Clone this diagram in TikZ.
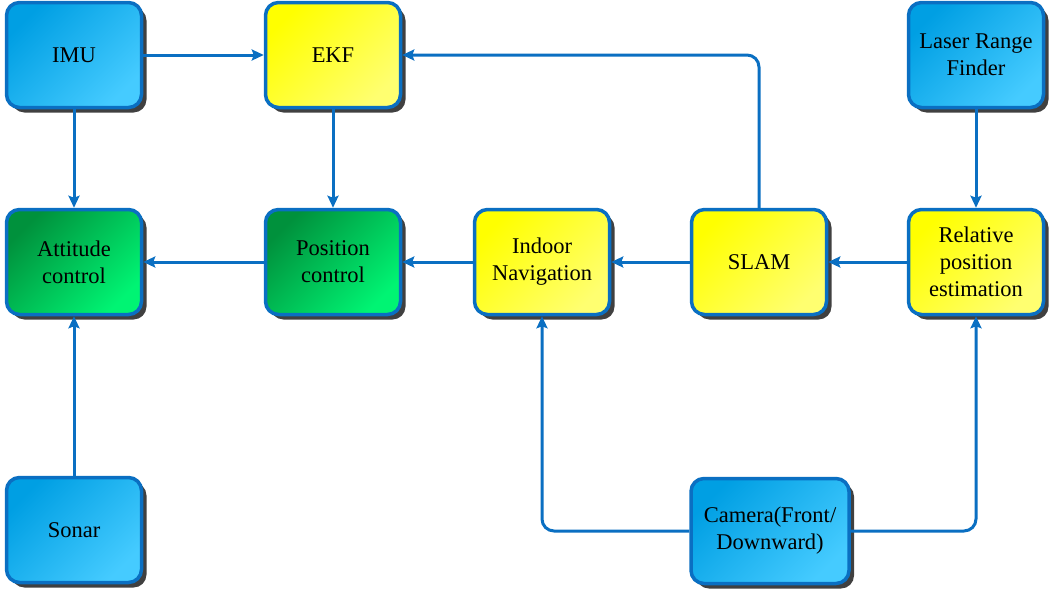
\documentclass[tikz,border=0pt]{standalone}
\usepackage{fontspec}
\setmainfont{Liberation Serif}
\usetikzlibrary{shadows,arrows.meta}
\definecolor{bord}{HTML}{0A6FC2}
\definecolor{bluea}{HTML}{009FE3}
\definecolor{blueb}{HTML}{45CBFF}
\definecolor{yela}{HTML}{FFFF00}
\definecolor{yelb}{HTML}{FFFF70}
\definecolor{grea}{HTML}{00913C}
\definecolor{greb}{HTML}{00F473}
\tikzset{
  box/.style={draw=bord, line width=3.5pt, rounded corners=13pt, minimum width=135pt, minimum height=105pt,
    align=center, font=\fontsize{22.5}{27}\selectfont, text=black,
    drop shadow={shadow xshift=5pt, shadow yshift=-5pt, fill=black!75, opacity=1}},
  bluebox/.style={box, top color=bluea, bottom color=blueb, shading angle=45},
  yelbox/.style={box, top color=yela, bottom color=yelb, shading angle=45},
  grebox/.style={box, top color=grea, bottom color=greb, shading angle=45},
  conn/.style={draw=bord, line width=3pt, -{Stealth[length=12pt,width=11pt,inset=2pt]}},
}
\begin{document}
\begin{tikzpicture}[x=1pt,y=-1pt]
\useasboundingbox (0,0) rectangle (1049,592);
\node[bluebox] (imu) at (74,55) {IMU};
\node[yelbox] (ekf) at (333,55) {EKF};
\node[bluebox] (laser) at (976,55) {Laser Range\\Finder};
\node[grebox] (att) at (74,262) {Attitude\\control};
\node[grebox] (pos) at (333,262) {Position\\control};
\node[yelbox] (nav) at (542,262) {Indoor\\Navigation};
\node[yelbox] (slam) at (759,262) {SLAM};
\node[yelbox] (rel) at (976,262) {Relative\\position\\estimation};
\node[bluebox] (sonar) at (74,530) {Sonar};
\node[bluebox, minimum width=158pt] (cam) at (770,531) {Camera(Front/\\Downward)};
\draw[conn] (imu) -- (ekf);
\draw[conn] (imu) -- (att);
\draw[conn] (ekf) -- (pos);
\draw[conn] (pos) -- (att);
\draw[conn] (nav) -- (pos);
\draw[conn] (slam) -- (nav);
\draw[conn] (rel) -- (slam);
\draw[conn] (laser) -- (rel);
\draw[conn] (sonar) -- (att);
\draw[conn, rounded corners=12pt] (slam.north) |- (ekf.east);
\draw[conn, rounded corners=12pt] (cam.west) -| (nav.south);
\draw[conn, rounded corners=12pt] (cam.east) -| (rel.south);
\end{tikzpicture}
\end{document}
